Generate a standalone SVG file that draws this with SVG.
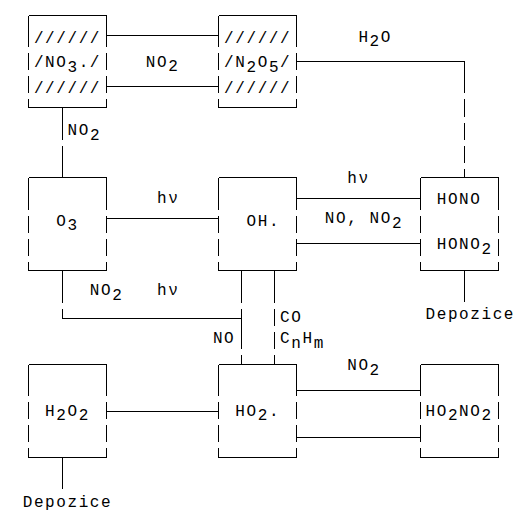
<svg xmlns="http://www.w3.org/2000/svg" width="523" height="519" viewBox="0 0 523 519">
<style>
.t{font-family:"Liberation Mono","Courier New",monospace;font-size:16px;letter-spacing:1.59px;fill:#000}
.l{fill:none;stroke:#000;stroke-width:1;shape-rendering:crispEdges}
</style>
<rect width="523" height="519" fill="#fff"/>
<g id="connectors" class="l">
<path d="M106.5 35.5H218.5M106.5 86.5H218.5"/>
<path d="M296.5 61.5H464.5V93.4M464.5 99.4V116.6M464.5 122.6V139.9M464.5 145.9V163.1M464.5 169.1V177.5"/>
<path d="M62.5 107.5V139.9M62.5 145.9V177.5"/>
<path d="M106.5 218.5H218.5"/>
<path d="M296.5 198.5H420.5M296.5 243.5H420.5"/>
<path d="M464.5 270.5V302"/>
<path d="M62.5 270.5V302.6M62.5 308.6V318.5H241.5"/>
<path d="M241.5 270.5V302.6M241.5 308.6V349.1M241.5 355.1V364.5"/>
<path d="M274.5 270.5V302.6M274.5 308.6V325.9M274.5 331.9V349.1M274.5 355.1V364.5"/>
<path d="M106.5 411.5H218.5"/>
<path d="M296.5 390.5H420.5M296.5 437.5H420.5"/>
<path d="M62.5 457.5V488.6"/>
</g>
<g id="no3">
<path class="l" d="M28.5 15.5H106.5M28.5 107.5H106.5M28.5 15.5V46.9M28.5 52.9V70.1M28.5 76.1V93.4M28.5 99.4V107.5M106.5 15.5V46.9M106.5 52.9V70.1M106.5 76.1V93.4M106.5 99.4V107.5"/>
<text class="t" x="33.9" y="42.5">//////</text>
<text class="t" x="33.9" y="67">/NO<tspan dy="4.5">3</tspan><tspan dy="-4.5">./</tspan></text>
<text class="t" x="33.9" y="92.5">//////</text>
</g>
<g id="n2o5">
<path class="l" d="M218.5 15.5H296.5M218.5 107.5H296.5M218.5 15.5V46.9M218.5 52.9V70.1M218.5 76.1V93.4M218.5 99.4V107.5M296.5 15.5V46.9M296.5 52.9V70.1M296.5 76.1V93.4M296.5 99.4V107.5"/>
<text class="t" x="224.1" y="42.5">//////</text>
<text class="t" x="224.1" y="67">/N<tspan dy="4.5">2</tspan><tspan dy="-4.5">O</tspan><tspan dy="4.5">5</tspan><tspan dy="-4.5">/</tspan></text>
<text class="t" x="224.1" y="92.5">//////</text>
</g>
<g id="o3">
<path class="l" d="M28.5 177.5H106.5M28.5 270.5H106.5M28.5 177.5V209.6M28.5 215.6V232.9M28.5 238.9V256.1M28.5 262.1V270.5M106.5 177.5V209.6M106.5 215.6V232.9M106.5 238.9V256.1M106.5 262.1V270.5"/>
<text class="t" x="56.3" y="225.5">O<tspan dy="4.5">3</tspan></text>
</g>
<g id="oh">
<path class="l" d="M218.5 177.5H296.5M218.5 270.5H296.5M218.5 177.5V209.6M218.5 215.6V232.9M218.5 238.9V256.1M218.5 262.1V270.5M296.5 177.5V209.6M296.5 215.6V232.9M296.5 238.9V256.1M296.5 262.1V270.5"/>
<text class="t" x="246.5" y="225.5">OH.</text>
</g>
<g id="hono">
<path class="l" d="M420.5 177.5H498.5M420.5 270.5H498.5M420.5 177.5V209.6M420.5 215.6V232.9M420.5 238.9V256.1M420.5 262.1V270.5M498.5 177.5V209.6M498.5 215.6V232.9M498.5 238.9V256.1M498.5 262.1V270.5"/>
<text class="t" x="436.7" y="203.5">HONO</text>
<text class="t" x="436.7" y="249">HONO<tspan dy="4.5">2</tspan></text>
</g>
<g id="h2o2">
<path class="l" d="M28.5 364.5H106.5M28.5 457.5H106.5M28.5 364.5V395.6M28.5 401.6V418.9M28.5 424.9V442.1M28.5 448.1V457.5M106.5 364.5V395.6M106.5 401.6V418.9M106.5 424.9V442.1M106.5 448.1V457.5"/>
<text class="t" x="45.1" y="415.5">H<tspan dy="4.5">2</tspan><tspan dy="-4.5">O</tspan><tspan dy="4.5">2</tspan></text>
</g>
<g id="ho2">
<path class="l" d="M218.5 364.5H296.5M218.5 457.5H296.5M218.5 364.5V395.6M218.5 401.6V418.9M218.5 424.9V442.1M218.5 448.1V457.5M296.5 364.5V395.6M296.5 401.6V418.9M296.5 424.9V442.1M296.5 448.1V457.5"/>
<text class="t" x="235.3" y="415.5">HO<tspan dy="4.5">2</tspan><tspan dy="-4.5">.</tspan></text>
</g>
<g id="ho2no2">
<path class="l" d="M420.5 364.5H498.5M420.5 457.5H498.5M420.5 364.5V395.6M420.5 401.6V418.9M420.5 424.9V442.1M420.5 448.1V457.5M498.5 364.5V395.6M498.5 401.6V418.9M498.5 424.9V442.1M498.5 448.1V457.5"/>
<text class="t" x="425.5" y="415.5">HO<tspan dy="4.5">2</tspan><tspan dy="-4.5">NO</tspan><tspan dy="4.5">2</tspan></text>
</g>
<g id="labels">
<text class="t" x="145.8" y="66.5">NO<tspan dy="4.5">2</tspan></text>
<text class="t" x="358.4" y="41.7">H<tspan dy="4.5">2</tspan><tspan dy="-4.5">O</tspan></text>
<text class="t" x="67.5" y="135">NO<tspan dy="4.5">2</tspan></text>
<text class="t" x="157" y="203">hν</text>
<text class="t" x="347.2" y="183">hν</text>
<text class="t" x="324.8" y="223">NO, NO<tspan dy="4.5">2</tspan></text>
<text class="t" x="425.5" y="319">Depozice</text>
<text class="t" x="89.8" y="295">NO<tspan dy="4.5">2</tspan></text>
<text class="t" x="157" y="295">hν</text>
<text class="t" x="212.9" y="343">NO</text>
<text class="t" x="280.1" y="321.7">CO</text>
<text class="t" x="280.1" y="343">C<tspan dy="4.5">n</tspan><tspan dy="-4.5">H</tspan><tspan dy="4.5">m</tspan></text>
<text class="t" x="347.2" y="370">NO<tspan dy="4.5">2</tspan></text>
<text class="t" x="22.7" y="506.5">Depozice</text>
</g>
</svg>
